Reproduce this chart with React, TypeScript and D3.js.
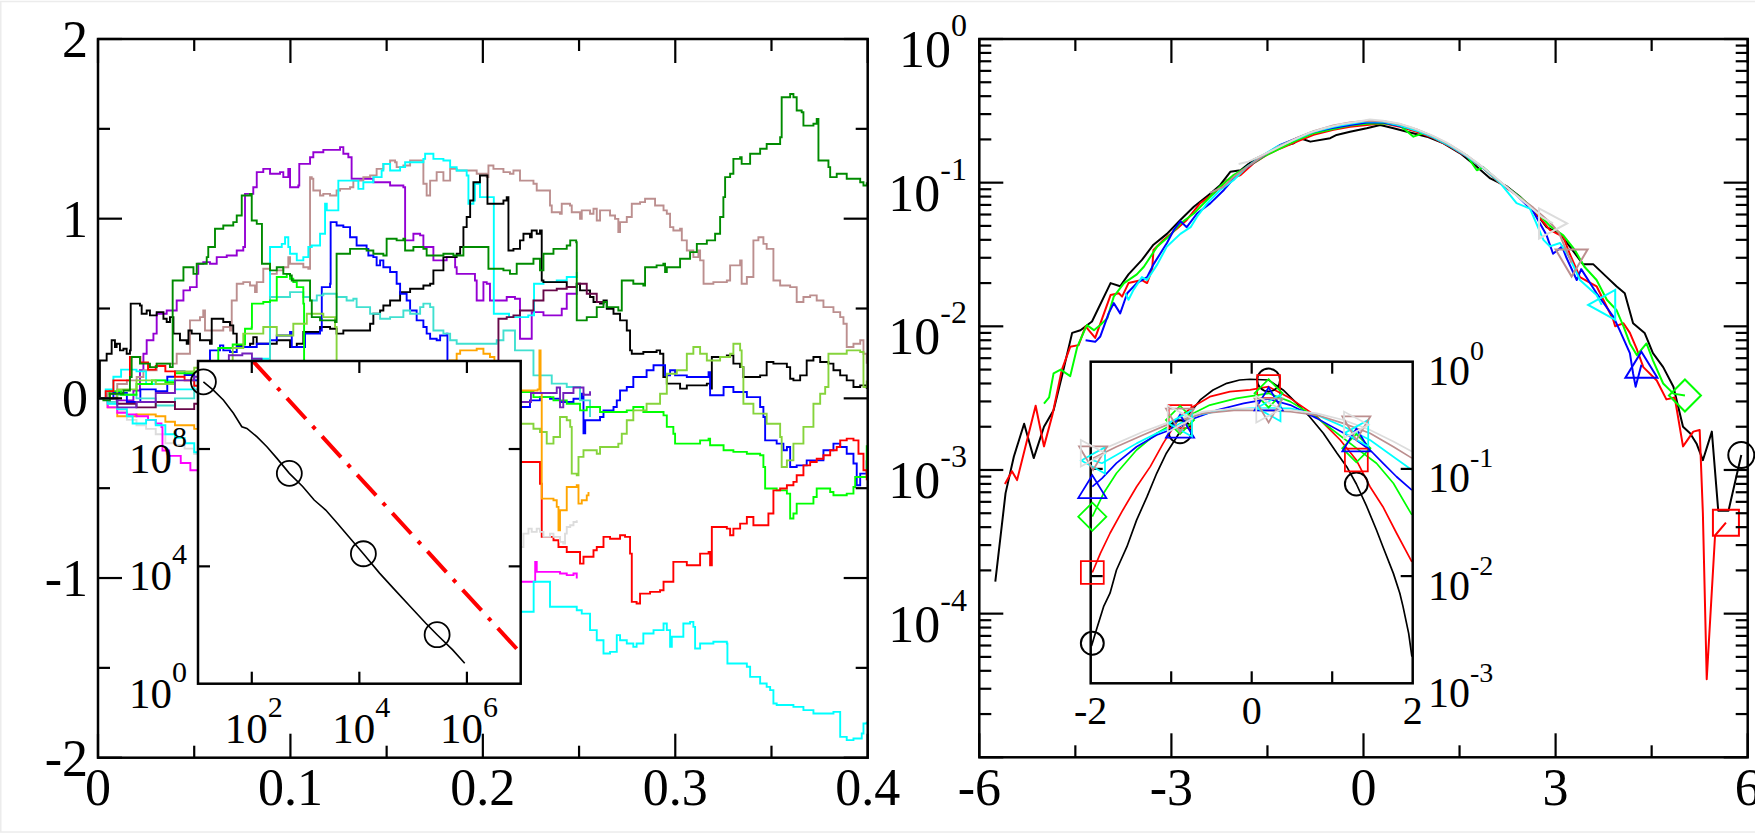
import React from 'react';
import * as d3 from 'd3';

type P = [number, number];

const FONT = '"Liberation Serif", "Times New Roman", Times, serif';

// ---------------- left panel: trajectories x(t) ----------------
const blackWalk: P[] = [[0,0],[0.001,0.211],[0.0045,0.248],[0.0071,0.323],[0.0088,0.286],[0.0097,0.304],[0.0114,0.267],[0.0132,0.276],[0.0149,0.248],[0.0166,0.267],[0.017,0.527],[0.0218,0.517],[0.0227,0.471],[0.0253,0.489],[0.027,0.462],[0.0305,0.48],[0.034,0.443],[0.0357,0.425],[0.0374,0.452],[0.0392,0.36],[0.0426,0.323],[0.0461,0.304],[0.047,0.378],[0.0487,0.36],[0.053,0.323],[0.0582,0.304],[0.0591,0.443],[0.0651,0.425],[0.0686,0.406],[0.0703,0.36],[0.0721,0.295],[0.0755,0.286],[0.079,0.304],[0.0807,0.341],[0.0825,0.304],[0.0929,0.323],[0.0998,0.286],[0.1033,0.304],[0.1067,0.369],[0.1154,0.397],[0.1206,0.387],[0.124,0.36],[0.1275,0.378],[0.1396,0.378],[0.1414,0.415],[0.1431,0.471],[0.1466,0.489],[0.1483,0.517],[0.1518,0.545],[0.157,0.591],[0.1622,0.61],[0.1691,0.628],[0.1726,0.638],[0.1743,0.712],[0.1795,0.786],[0.1864,0.805],[0.1882,0.842],[0.1899,0.953],[0.1916,1.009],[0.1934,1.101],[0.1951,1.203],[0.1985,1.24],[0.202,1.24],[0.2024,1.083],[0.2107,1.101],[0.2124,1.12],[0.2133,0.823],[0.2159,0.832],[0.2193,0.879],[0.2211,0.916],[0.2245,0.897],[0.2254,0.934],[0.228,0.916],[0.2297,0.934],[0.2306,0.656],[0.2315,0.647],[0.2436,0.619],[0.2488,0.638],[0.2505,0.601],[0.2557,0.564],[0.2575,0.536],[0.2609,0.527],[0.2627,0.545],[0.2644,0.499],[0.2679,0.471],[0.2713,0.434],[0.2748,0.378],[0.2765,0.267],[0.2774,0.248],[0.2834,0.258],[0.2903,0.267],[0.2921,0.248],[0.2938,0.119],[0.2956,0.082],[0.3025,0.054],[0.306,0.072],[0.3164,0.082],[0.3181,0.054],[0.319,0.23],[0.3268,0.239],[0.3302,0.193],[0.3337,0.174],[0.3354,0.119],[0.3441,0.128],[0.3475,0.202],[0.351,0.193],[0.358,0.174],[0.3597,0.109],[0.3614,0.1],[0.3649,0.128],[0.3683,0.211],[0.3718,0.23],[0.3753,0.202],[0.3796,0.193],[0.3822,0.156],[0.3857,0.128],[0.3891,0.1],[0.3926,0.063],[0.3961,0.072],[0.3995,0.054]];

const redWalk: P[] = [[0,0],[0.004,0.04],[0.008,0.1],[0.0166,0.23],[0.022,0.2],[0.026,0.16],[0.03,0.18],[0.035,0.15],[0.04,0.12],[0.045,0.1],[0.05,0.07],[0.056,0.05],[0.14,-0.2],[0.215,-0.354],[0.2245,-0.354],[0.2297,-0.475],[0.2306,-0.771],[0.2367,-0.79],[0.2393,-0.827],[0.2436,-0.855],[0.2505,-0.92],[0.2523,-0.882],[0.2575,-0.845],[0.2592,-0.827],[0.2627,-0.771],[0.2661,-0.781],[0.2713,-0.762],[0.2739,-0.771],[0.2765,-0.864],[0.2774,-1.133],[0.2799,-1.142],[0.2817,-1.087],[0.2869,-1.077],[0.2921,-1.068],[0.2939,-1.021],[0.2973,-1.021],[0.299,-0.91],[0.3042,-0.91],[0.306,-0.929],[0.3129,-0.864],[0.3173,-0.855],[0.3181,-0.929],[0.319,-0.716],[0.3268,-0.725],[0.3285,-0.762],[0.3302,-0.725],[0.3337,-0.697],[0.3372,-0.66],[0.3406,-0.706],[0.3458,-0.706],[0.3484,-0.641],[0.351,-0.512],[0.3545,-0.502],[0.358,-0.484],[0.3614,-0.465],[0.3631,-0.428],[0.3666,-0.373],[0.3701,-0.354],[0.3735,-0.336],[0.377,-0.317],[0.3805,-0.289],[0.3839,-0.271],[0.3857,-0.234],[0.3891,-0.224],[0.3926,-0.234],[0.3952,-0.308],[0.3978,-0.4],[0.3995,-0.456]];

const greenWalk: P[] = [[0,0],[0.006,0.04],[0.012,0.02],[0.02,0.08],[0.028,0.1],[0.035,0.09],[0.04,0.14],[0.05,0.15],[0.055,0.2],[0.06,0.2],[0.0625,0.28],[0.07,0.3],[0.0755,0.3],[0.0764,0.387],[0.0799,0.397],[0.08,0.527],[0.0859,0.536],[0.0894,0.545],[0.0929,0.675],[0.0981,0.693],[0.0998,0.666],[0.1015,0.647],[0.1033,0.619],[0.1067,0.527],[0.1071,0.1],[0.16,-0.1],[0.215,0.035],[0.2263,0.007],[0.2349,0.007],[0.2367,-0.011],[0.2436,-0.03],[0.2505,-0.067],[0.254,-0.048],[0.2609,-0.076],[0.2748,-0.067],[0.2782,-0.048],[0.2834,-0.076],[0.2939,-0.095],[0.2956,-0.159],[0.299,-0.197],[0.2999,-0.252],[0.3077,-0.252],[0.3129,-0.234],[0.3173,-0.224],[0.3181,-0.261],[0.3251,-0.289],[0.3302,-0.298],[0.3372,-0.308],[0.3441,-0.317],[0.3458,-0.382],[0.3467,-0.502],[0.3527,-0.512],[0.358,-0.53],[0.3597,-0.669],[0.3614,-0.641],[0.3631,-0.586],[0.3718,-0.549],[0.3735,-0.502],[0.3805,-0.521],[0.3822,-0.539],[0.3891,-0.53],[0.3926,-0.493],[0.3935,-0.438],[0.3978,-0.438],[0.3995,-0.261]];

const blueWalk: P[] = [[0,0],[0.008,0.03],[0.015,-0.02],[0.022,0.05],[0.03,0.04],[0.036,0.12],[0.04,0.15],[0.045,0.13],[0.05,0.1],[0.055,0.18],[0.0582,0.267],[0.0634,0.295],[0.0651,0.267],[0.0686,0.258],[0.0721,0.286],[0.0825,0.304],[0.0894,0.323],[0.0929,0.35],[0.0998,0.369],[0.1007,0.286],[0.1067,0.286],[0.1076,0.36],[0.1154,0.378],[0.1163,0.619],[0.1206,0.638],[0.1209,0.981],[0.124,0.962],[0.1275,0.953],[0.131,0.897],[0.1344,0.851],[0.1396,0.832],[0.1405,0.795],[0.1431,0.786],[0.1448,0.74],[0.1466,0.768],[0.1483,0.73],[0.1518,0.703],[0.1552,0.638],[0.157,0.582],[0.1604,0.545],[0.1622,0.489],[0.1656,0.434],[0.1691,0.397],[0.1708,0.36],[0.1726,0.332],[0.176,0.323],[0.1778,0.35],[0.1812,0.36],[0.1816,0.1],[0.2,-0.05],[0.215,-0.048],[0.2245,-0.011],[0.2297,0.007],[0.2349,-0.002],[0.2401,-0.02],[0.2471,-0.002],[0.2514,0.026],[0.2523,-0.195],[0.2532,-0.122],[0.2609,-0.104],[0.2627,-0.067],[0.2679,-0.048],[0.2696,-0.011],[0.2713,0.044],[0.2748,0.063],[0.2782,0.119],[0.2851,0.156],[0.2887,0.184],[0.2939,0.184],[0.2947,0.128],[0.2973,0.156],[0.2999,0.128],[0.306,0.119],[0.3173,0.146],[0.3181,0.017],[0.3251,0.063],[0.3302,0.035],[0.3372,0.007],[0.3441,-0.048],[0.3458,-0.104],[0.3467,-0.234],[0.3527,-0.252],[0.3562,-0.289],[0.358,-0.271],[0.3597,-0.382],[0.3631,-0.373],[0.3683,-0.345],[0.3735,-0.345],[0.377,-0.289],[0.3822,-0.252],[0.3857,-0.271],[0.3891,-0.308],[0.3926,-0.363],[0.3943,-0.484],[0.3961,-0.419],[0.3995,-0.345]];

const cyanWalkA: P[] = [[0,0],[0.004,0.05],[0.008,0.12],[0.012,0.16],[0.02,0.15],[0.025,0.08],[0.03,0.1],[0.04,0.05],[0.05,0.1],[0.06,0.15],[0.07,0.2],[0.08,0.22],[0.0894,0.842],[0.0955,0.86],[0.0972,0.897],[0.0989,0.842],[0.0998,0.805],[0.1033,0.768],[0.1067,0.786],[0.1093,0.842],[0.1111,0.851],[0.1154,0.916],[0.118,1.083],[0.1189,1.046],[0.124,1.046],[0.1249,1.212],[0.1344,1.212],[0.1353,1.166],[0.1379,1.203],[0.1431,1.231],[0.1474,1.268],[0.1483,1.305],[0.1518,1.268],[0.157,1.287],[0.1596,1.314],[0.1691,1.333],[0.17,1.361],[0.1743,1.333],[0.1795,1.324],[0.183,1.287],[0.1864,1.268],[0.1916,1.24],[0.1925,1.083],[0.1951,1.101],[0.1959,1.194],[0.1985,1.12],[0.2027,1.12],[0.2057,0.471],[0.2136,0.452],[0.2236,0.462],[0.2266,0.638],[0.2315,0.647],[0.2384,0.656],[0.2436,0.675],[0.2488,0.703]];

const cyanWalkB: P[] = [[0,0],[0.005,-0.03],[0.01,-0.06],[0.015,-0.1],[0.018,-0.14],[0.025,-0.12],[0.03,-0.15],[0.035,-0.2],[0.04,-0.22],[0.045,-0.25],[0.05,-0.3],[0.055,-0.32],[0.14,-0.9],[0.215,-1.188],[0.2263,-1.188],[0.2264,-1.021],[0.2332,-1.021],[0.2349,-1.16],[0.2488,-1.179],[0.2514,-1.198],[0.2557,-1.29],[0.2592,-1.346],[0.2627,-1.42],[0.2661,-1.411],[0.2696,-1.318],[0.2713,-1.346],[0.2748,-1.364],[0.2782,-1.383],[0.2799,-1.364],[0.2834,-1.309],[0.2887,-1.29],[0.2939,-1.253],[0.2956,-1.29],[0.2973,-1.383],[0.2982,-1.327],[0.3042,-1.253],[0.3077,-1.244],[0.3094,-1.272],[0.3103,-1.392],[0.3129,-1.364],[0.3198,-1.355],[0.3268,-1.364],[0.3271,-1.476],[0.3337,-1.476],[0.3372,-1.494],[0.3389,-1.55],[0.3441,-1.587],[0.3475,-1.606],[0.3493,-1.624],[0.351,-1.698],[0.3527,-1.707],[0.3614,-1.717],[0.3666,-1.735],[0.3718,-1.754],[0.3822,-1.745],[0.3857,-1.884],[0.3891,-1.902],[0.3926,-1.893],[0.3969,-1.865],[0.3978,-1.81],[0.3995,-1.8]];

const brownWalk: P[] = [[0,0],[0.005,0.03],[0.01,0.08],[0.015,0.1],[0.0201,0.119],[0.0236,0.156],[0.0305,0.193],[0.0357,0.193],[0.0409,0.248],[0.0478,0.434],[0.053,0.452],[0.0547,0.489],[0.0556,0.378],[0.0617,0.378],[0.0651,0.397],[0.0686,0.378],[0.0695,0.545],[0.0721,0.638],[0.0755,0.647],[0.079,0.628],[0.0816,0.591],[0.0825,0.647],[0.0859,0.721],[0.0894,0.693],[0.0929,0.712],[0.0963,0.73],[0.0989,0.786],[0.0998,0.749],[0.1067,0.73],[0.1093,0.721],[0.1102,1.231],[0.1111,1.222],[0.1119,1.157],[0.1154,1.129],[0.1171,1.138],[0.1206,1.129],[0.124,1.157],[0.1258,1.166],[0.131,1.175],[0.1327,1.212],[0.1362,1.212],[0.1379,1.231],[0.1414,1.24],[0.1448,1.277],[0.1483,1.305],[0.1518,1.324],[0.1544,1.314],[0.1552,1.287],[0.1587,1.296],[0.1622,1.324],[0.1691,1.194],[0.1708,1.129],[0.1726,1.212],[0.176,1.259],[0.1795,1.212],[0.183,1.277],[0.1864,1.268],[0.1916,1.268],[0.1968,1.25],[0.202,1.231],[0.2029,1.296],[0.2055,1.277],[0.2107,1.259],[0.2141,1.25],[0.2159,1.268],[0.2193,1.212],[0.2263,1.194],[0.228,1.157],[0.2349,1.073],[0.2358,1.036],[0.2401,1.027],[0.241,1.083],[0.2453,1.073],[0.2462,1.036],[0.2505,0.999],[0.2514,1.046],[0.2557,1.027],[0.2575,1.055],[0.2592,0.99],[0.2609,1.046],[0.2661,1.018],[0.2687,0.999],[0.2704,0.925],[0.2713,0.981],[0.2748,1.009],[0.2774,1.083],[0.2817,1.092],[0.2843,1.111],[0.2887,1.111],[0.2895,1.073],[0.2939,1.046],[0.2956,1.027],[0.2973,0.953],[0.299,0.934],[0.3025,0.944],[0.3034,0.879],[0.306,0.823],[0.3094,0.786],[0.312,0.823],[0.3129,0.768],[0.3147,0.638],[0.3198,0.647],[0.3268,0.656],[0.3285,0.74],[0.3337,0.768],[0.3345,0.638],[0.3372,0.675],[0.3406,0.879],[0.3432,0.897],[0.3458,0.86],[0.3475,0.832],[0.3493,0.832],[0.351,0.656],[0.3545,0.628],[0.3597,0.619],[0.3631,0.536],[0.3666,0.564],[0.3701,0.573],[0.3735,0.545],[0.377,0.508],[0.3822,0.48],[0.3857,0.452],[0.3874,0.415],[0.3891,0.286],[0.3926,0.304],[0.3961,0.323],[0.3978,0.248],[0.3995,0.193]];

const violetWalk: P[] = [[0,0],[0.0045,0.026],[0.0097,-0.011],[0.0184,0.044],[0.0218,0.156],[0.0236,0.248],[0.0253,0.323],[0.0288,0.36],[0.0305,0.471],[0.0357,0.489],[0.0409,0.545],[0.0444,0.601],[0.0478,0.619],[0.0513,0.693],[0.0521,0.749],[0.0547,0.758],[0.0582,0.749],[0.0617,0.786],[0.0669,0.795],[0.0721,0.823],[0.0755,0.842],[0.0764,1.138],[0.0807,1.175],[0.0825,1.259],[0.0859,1.277],[0.0894,1.25],[0.0946,1.259],[0.0963,1.231],[0.0989,1.277],[0.0998,1.175],[0.1041,1.185],[0.1046,1.305],[0.1102,1.342],[0.1119,1.37],[0.1171,1.383],[0.1258,1.398],[0.1275,1.361],[0.1301,1.342],[0.1318,1.222],[0.1362,1.222],[0.1431,1.203],[0.1518,1.185],[0.1587,1.175],[0.1596,0.879],[0.1639,0.916],[0.1674,0.907],[0.1691,0.842],[0.1743,0.768],[0.1795,0.768],[0.1812,0.786],[0.1856,0.73],[0.1864,0.693],[0.1933,0.693],[0.1959,0.656],[0.1968,0.545],[0.2003,0.647],[0.202,0.638],[0.2037,0.545],[0.2124,0.564],[0.2167,0.554],[0.2193,0.332],[0.2245,0.332],[0.2254,0.48],[0.2315,0.462],[0.241,0.499],[0.2436,0.582],[0.2488,0.628]];

const limeWalk: P[] = [[0,0],[0.01,0.05],[0.02,0.1],[0.03,0.08],[0.04,0.15],[0.05,0.17],[0.06,0.2],[0.07,0.28],[0.0755,0.36],[0.0859,0.397],[0.0929,0.35],[0.1015,0.415],[0.1085,0.471],[0.1137,0.471],[0.1171,0.452],[0.1232,0.397],[0.124,0.1],[0.17,-0.1],[0.215,-0.141],[0.2263,-0.169],[0.2297,-0.187],[0.2332,-0.252],[0.2367,-0.215],[0.2401,-0.104],[0.2436,-0.122],[0.2454,-0.159],[0.2462,-0.419],[0.2488,-0.428],[0.2497,-0.326],[0.2523,-0.289],[0.2592,-0.308],[0.2609,-0.271],[0.2704,-0.252],[0.2722,-0.197],[0.2748,-0.122],[0.2782,-0.067],[0.2851,-0.03],[0.2921,0.026],[0.2956,0.137],[0.3008,0.156],[0.306,0.248],[0.3094,0.286],[0.3129,0.248],[0.3164,0.211],[0.3233,0.23],[0.3285,0.248],[0.3302,0.304],[0.3337,0.267],[0.3345,0.174],[0.3354,-0.03],[0.3406,-0.085],[0.3475,-0.141],[0.3545,-0.215],[0.3553,-0.382],[0.358,-0.345],[0.3614,-0.252],[0.3666,-0.159],[0.3718,-0.03],[0.3753,0.026],[0.3779,0.063],[0.3796,0.248],[0.3891,0.267],[0.3961,0.258],[0.3978,0.063],[0.3995,0.1]];

const turquoiseWalk: P[] = [[0,0],[0.005,-0.02],[0.01,0.02],[0.02,0],[0.03,-0.04],[0.04,0],[0.05,0.05],[0.06,0.08],[0.07,0.1],[0.08,0.12],[0.0885,0.15],[0.0894,0.564],[0.0998,0.591],[0.1067,0.564],[0.1102,0.545],[0.1137,0.573],[0.1171,0.582],[0.124,0.564],[0.1292,0.545],[0.1327,0.554],[0.1344,0.508],[0.1414,0.471],[0.1466,0.443],[0.1518,0.452],[0.1587,0.489],[0.1622,0.471],[0.1674,0.508],[0.1691,0.527],[0.1726,0.508],[0.1743,0.378],[0.1795,0.36],[0.183,0.323],[0.1864,0.304],[0.1951,0.304],[0.2072,0.323],[0.2107,0.378],[0.2159,0.378],[0.2167,0.267],[0.2254,0.267],[0.2263,0.128],[0.2349,0.128],[0.2358,0.082],[0.2436,0.063],[0.2505,-0.011],[0.2557,-0.104]];

const maroonWalk: P[] = [[0,0],[0.01,-0.03],[0.02,-0.05],[0.03,-0.02],[0.04,-0.06],[0.05,-0.03],[0.12,0.05],[0.2,0.15],[0.2081,0.443],[0.2124,0.452],[0.2159,0.462],[0.2193,0.489],[0.2263,0.545],[0.2315,0.601],[0.2384,0.61],[0.2436,0.619],[0.2488,0.638],[0.254,0.582],[0.2592,0.536],[0.2627,0.527]];

const indigoWalk: P[] = [[0,0],[0.01,-0.05],[0.02,-0.02],[0.03,0.03],[0.04,0.1],[0.05,0.12],[0.06,0.2],[0.068,0.24],[0.075,0.25],[0.08,0.22],[0.085,0.1],[0.215,-0.02],[0.225,0.03],[0.2384,0.06],[0.2401,-0.05],[0.2418,0.03],[0.2471,0.06],[0.2523,0.02],[0.2557,0.04]];

const magentaWalk: P[] = [[0,0],[0.005,-0.05],[0.01,-0.08],[0.015,-0.09],[0.02,-0.1],[0.026,-0.12],[0.03,-0.14],[0.033,-0.16],[0.0335,-0.29],[0.037,-0.32],[0.043,-0.36],[0.048,-0.4],[0.052,-0.44],[0.215,-1.021],[0.2263,-1.021],[0.2272,-0.91],[0.228,-0.966],[0.2349,-0.966],[0.2401,-0.975],[0.2436,-0.984],[0.2471,-0.975],[0.2488,-1.003]];

const orangeWalk: P[] = [[0,0],[0.005,-0.05],[0.01,-0.1],[0.02,-0.09],[0.03,-0.1],[0.035,-0.13],[0.04,-0.15],[0.05,-0.17],[0.12,-0.05],[0.182,0.15],[0.1829,0.211],[0.1864,0.248],[0.1882,0.267],[0.1934,0.267],[0.1968,0.276],[0.2003,0.248],[0.2037,0.23],[0.206,0.1],[0.2193,0.044],[0.2285,0.05],[0.2294,0.267],[0.23,0.03],[0.2306,-0.558],[0.2367,-0.567],[0.2384,-0.604],[0.2393,-0.734],[0.2401,-0.623],[0.2436,-0.493],[0.2488,-0.484],[0.2497,-0.586],[0.2514,-0.567],[0.254,-0.54],[0.2549,-0.521]];

const greyWalk: P[] = [[0,0],[0.005,-0.03],[0.01,-0.07],[0.015,-0.12],[0.02,-0.15],[0.025,-0.17],[0.03,-0.2],[0.035,-0.25],[0.04,-0.26],[0.045,-0.28],[0.05,-0.31],[0.052,-0.33],[0.215,-0.827],[0.2211,-0.753],[0.2237,-0.725],[0.2254,-0.743],[0.228,-0.725],[0.2297,-0.743],[0.2315,-0.771],[0.2349,-0.753],[0.2367,-0.771],[0.2401,-0.799],[0.2418,-0.808],[0.2427,-0.753],[0.2436,-0.716],[0.2454,-0.706],[0.2471,-0.688],[0.2488,-0.679]];

const darkGreenWalk: P[] = [[0,0],[0.0028,-0.011],[0.0062,0.026],[0.0132,0.044],[0.0166,0.119],[0.0175,0.23],[0.0218,0.193],[0.027,0.174],[0.0305,0.193],[0.0374,0.174],[0.0388,0.656],[0.0444,0.73],[0.0478,0.73],[0.0496,0.693],[0.0513,0.749],[0.0565,0.786],[0.0573,0.842],[0.0608,0.944],[0.0651,0.962],[0.0703,0.981],[0.0721,1.018],[0.0747,1.129],[0.079,1.138],[0.0799,0.99],[0.0825,0.971],[0.0851,0.971],[0.0852,0.749],[0.0894,0.712],[0.0929,0.73],[0.0963,0.693],[0.0998,0.684],[0.1007,0.656],[0.1102,0.545],[0.1111,0.452],[0.1154,0.434],[0.1232,0.425],[0.124,0.805],[0.131,0.832],[0.1396,0.823],[0.1431,0.805],[0.1483,0.795],[0.15,0.888],[0.1552,0.879],[0.1587,0.888],[0.1596,0.823],[0.1639,0.842],[0.1691,0.832],[0.1708,0.795],[0.1795,0.805],[0.1847,0.795],[0.1899,0.842],[0.202,0.842],[0.2029,0.721],[0.2107,0.712],[0.2141,0.693],[0.2176,0.749],[0.2193,0.749],[0.2263,0.777],[0.2297,0.712],[0.2315,0.805],[0.2367,0.832],[0.2436,0.851],[0.2454,0.879],[0.2485,0.869],[0.2488,0.434],[0.254,0.452],[0.2592,0.508],[0.2627,0.536],[0.2644,0.508],[0.2704,0.489],[0.2722,0.656],[0.2782,0.638],[0.2834,0.628],[0.2843,0.73],[0.2903,0.74],[0.2938,0.749],[0.2947,0.703],[0.2956,0.73],[0.3025,0.777],[0.3077,0.814],[0.3112,0.86],[0.3164,0.879],[0.3207,0.916],[0.3233,1.009],[0.325,1.12],[0.3259,1.231],[0.3285,1.25],[0.3302,1.333],[0.3337,1.342],[0.3345,1.305],[0.3389,1.361],[0.3441,1.389],[0.3475,1.416],[0.3545,1.453],[0.3553,1.676],[0.3597,1.694],[0.3614,1.676],[0.3631,1.602],[0.3657,1.592],[0.3666,1.518],[0.3718,1.528],[0.3735,1.555],[0.3744,1.324],[0.377,1.324],[0.3796,1.287],[0.3805,1.231],[0.3839,1.25],[0.3891,1.222],[0.3961,1.203],[0.3978,1.185],[0.3995,1.203]];

const walks: { color: string; pts: P[] }[] = [
  { color: '#9400d3', pts: violetWalk },
  { color: '#bc8f8f', pts: brownWalk },
  { color: '#00ffff', pts: cyanWalkA },
  { color: '#000000', pts: blackWalk },
  { color: '#0000ff', pts: blueWalk },
  { color: '#40e0d0', pts: turquoiseWalk },
  { color: '#00ff00', pts: greenWalk },
  { color: '#86d43c', pts: limeWalk },
  { color: '#ff0000', pts: redWalk },
  { color: '#ffa500', pts: orangeWalk },
  { color: '#dcdcdc', pts: greyWalk },
  { color: '#ff00ff', pts: magentaWalk },
  { color: '#00ffff', pts: cyanWalkB },
  { color: '#670748', pts: maroonWalk },
  { color: '#7221bc', pts: indigoWalk },
  { color: '#008b00', pts: darkGreenWalk },
];

const leftXTicks = [0, 0.1, 0.2, 0.3, 0.4];
const leftXMinor = [0.05, 0.15, 0.25, 0.35];
const leftYTicks = [-2, -1, 0, 1, 2];
const leftYMinor = [-1.5, -0.5, 0.5, 1.5];

// inset: waiting-time distribution, log-log
const waitCurve: P[] = [[12.6,1.95e10],[19.3,1.02e10],[29.6,4.68e9],[45.6,1.66e9],[65.3,5.75e8],[81.1,5.01e8],[124,2.63e8],[191,1.2e8],[294,4.79e7],[499,1.48e7],[883,5.25e6],[1445,1.82e6],[2371,8.32e5],[3890,2.95e5],[6368,1.02e5],[11885,2.69e4],[23714,5.89e3],[45709,1.58e3],[88308,427],[170215,117],[279254,46.8],[538270,14.5],[910000,5.0]];
const waitMarkIdx = [0, 9, 15, 20];
const guideLine: P[] = [[100, 1.1e11], [1e7, 11]];
const insetLXExp = [2, 4, 6];
const insetLYExp = [0, 4, 8];

// ---------------- right panel: distributions ----------------
const distBlack: P[] = [[-5.75,0.000167],[-5.59,0.00069],[-5.46,0.00124],[-5.3,0.0021],[-5.15,0.00121],[-4.99,0.002],[-4.84,0.0026],[-4.71,0.0045],[-4.55,0.009],[-4.42,0.0094],[-4.24,0.0108],[-3.95,0.02],[-3.8,0.019],[-3.67,0.023],[-3.46,0.029],[-3.28,0.037],[-3.07,0.044],[-2.86,0.055],[-2.65,0.068],[-2.39,0.084],[-2.24,0.096],[-2.08,0.119],[-1.92,0.122],[-1.72,0.144],[-1.51,0.16],[-1.3,0.178],[-1.09,0.188],[-0.99,0.204],[-0.83,0.193],[-0.52,0.204],[-0.42,0.215],[-0.21,0.226],[0.05,0.239],[0.26,0.252],[0.47,0.239],[0.68,0.226],[0.99,0.209],[1.25,0.188],[1.51,0.16],[1.77,0.129],[1.98,0.107],[2.24,0.094],[2.44,0.08],[2.65,0.065],[2.86,0.049],[3.07,0.044],[3.22,0.036],[3.43,0.027],[3.59,0.027],[3.8,0.022],[3.95,0.019],[4.08,0.017],[4.21,0.0105],[4.39,0.009],[4.52,0.0065],[4.68,0.0052],[4.84,0.0038],[4.99,0.002],[5.1,0.0018],[5.2,0.00153],[5.3,0.00117],[5.44,0.00185],[5.54,0.00052],[5.7,0.00052],[5.9,0.00127]];
const distRed: P[] = [[-5.6,0.0008],[-5.49,0.00098],[-5.41,0.00085],[-5.12,0.0028],[-4.99,0.00146],[-4.86,0.0024],[-4.71,0.005],[-4.58,0.0072],[-4.45,0.0074],[-4.34,0.01],[-4.19,0.0083],[-3.95,0.0165],[-3.82,0.017],[-3.77,0.0161],[-3.67,0.02],[-3.46,0.021],[-3.38,0.02],[-3.3,0.025],[-3.28,0.034],[-3.12,0.04],[-2.91,0.048],[-2.76,0.055],[-2.55,0.072],[-2.34,0.084],[-2.13,0.104],[-1.92,0.113],[-1.72,0.136],[-1.51,0.156],[-1.3,0.173],[-1.04,0.193],[-0.78,0.215],[-0.47,0.233],[-0.21,0.245],[0.05,0.252],[0.31,0.259],[0.57,0.245],[0.83,0.226],[1.09,0.204],[1.35,0.178],[1.61,0.152],[1.87,0.126],[2.13,0.099],[2.39,0.082],[2.65,0.065],[2.91,0.047],[3.12,0.042],[3.22,0.032],[3.38,0.022],[3.64,0.019],[3.9,0.0111],[3.93,0.01],[4.06,0.0105],[4.16,0.009],[4.27,0.0069],[4.37,0.0052],[4.58,0.0042],[4.73,0.0031],[4.86,0.0032],[4.99,0.00146],[5.15,0.00185],[5.25,0.0019],[5.3,0.0005],[5.36,0.000035],[5.49,0.00035],[5.66,0.00043]];
const distGreen: P[] = [[-4.99,0.0029],[-4.91,0.0032],[-4.84,0.0047],[-4.73,0.005],[-4.58,0.0045],[-4.47,0.0072],[-4.32,0.0102],[-4.21,0.0094],[-4.11,0.0102],[-4,0.0114],[-3.9,0.0161],[-3.74,0.02],[-3.54,0.023],[-3.43,0.026],[-3.22,0.036],[-3.02,0.043],[-2.86,0.052],[-2.65,0.061],[-2.44,0.076],[-2.24,0.094],[-2.03,0.113],[-1.82,0.129],[-1.56,0.152],[-1.3,0.173],[-1.04,0.198],[-0.78,0.221],[-0.47,0.236],[-0.21,0.25],[0.05,0.257],[0.31,0.259],[0.57,0.25],[0.78,0.209],[0.95,0.222],[1.09,0.207],[1.35,0.18],[1.61,0.155],[1.77,0.122],[1.87,0.128],[2.13,0.101],[2.39,0.083],[2.65,0.066],[2.91,0.05],[3.12,0.043],[3.3,0.034],[3.45,0.026],[3.64,0.021],[3.8,0.0153],[3.95,0.013],[4.06,0.01],[4.16,0.0076],[4.27,0.0063],[4.42,0.0076],[4.52,0.0058],[4.68,0.004],[4.84,0.0034],[5.02,0.0033]];
const distBlue: P[] = [[-4.34,0.008],[-4.19,0.0078],[-4.11,0.0085],[-3.98,0.0123],[-3.9,0.0145],[-3.8,0.0123],[-3.69,0.017],[-3.54,0.02],[-3.38,0.022],[-3.28,0.027],[-3.07,0.038],[-2.96,0.047],[-2.86,0.054],[-2.76,0.049],[-2.6,0.061],[-2.39,0.072],[-2.18,0.089],[-1.98,0.113],[-1.77,0.133],[-1.51,0.16],[-1.3,0.183],[-1.04,0.204],[-0.78,0.226],[-0.47,0.241],[-0.21,0.252],[0.05,0.262],[0.31,0.262],[0.57,0.248],[0.83,0.232],[1.09,0.207],[1.35,0.18],[1.61,0.153],[1.87,0.127],[2.13,0.101],[2.39,0.082],[2.65,0.063],[2.86,0.043],[2.96,0.032],[3.1,0.036],[3.17,0.03],[3.33,0.021],[3.4,0.025],[3.64,0.017],[3.9,0.0117],[4,0.0094],[4.16,0.0065],[4.21,0.0047],[4.25,0.0038],[4.34,0.0054]];
const distCyan: P[] = [[-3.72,0.017],[-3.67,0.0153],[-3.59,0.018],[-3.46,0.022],[-3.38,0.021],[-3.22,0.027],[-3.07,0.036],[-2.86,0.044],[-2.7,0.049],[-2.6,0.058],[-2.44,0.072],[-2.24,0.089],[-2.03,0.104],[-1.82,0.129],[-1.56,0.156],[-1.35,0.178],[-1.09,0.198],[-0.78,0.226],[-0.47,0.245],[-0.21,0.257],[0.05,0.268],[0.31,0.265],[0.57,0.25],[0.83,0.23],[1.09,0.207],[1.35,0.18],[1.61,0.153],[1.87,0.126],[2.13,0.1],[2.39,0.072],[2.6,0.066],[2.81,0.04],[2.91,0.036],[3.07,0.038],[3.22,0.03],[3.38,0.021],[3.64,0.0165],[3.72,0.0141]];
const distBrown: P[] = [[-2.4,0.085],[-2.2,0.093],[-2,0.112],[-1.8,0.13],[-1.56,0.155],[-1.3,0.18],[-1.04,0.205],[-0.78,0.228],[-0.47,0.25],[-0.21,0.262],[0.05,0.27],[0.31,0.268],[0.57,0.255],[0.83,0.235],[1.09,0.21],[1.35,0.183],[1.61,0.155],[1.87,0.127],[2.13,0.102],[2.39,0.082],[2.65,0.067],[2.91,0.053],[3.05,0.045],[3.25,0.0276]];
const distGrey: P[] = [[-1.95,0.135],[-1.8,0.14],[-1.65,0.15],[-1.4,0.17],[-1.1,0.198],[-0.85,0.222],[-0.6,0.24],[-0.35,0.255],[-0.1,0.265],[0.1,0.275],[0.3,0.27],[0.55,0.258],[0.8,0.238],[1.05,0.215],[1.3,0.19],[1.55,0.162],[1.8,0.135],[2.05,0.11],[2.3,0.088],[2.55,0.071],[2.8,0.057],[2.96,0.052]];

// inset: unscaled distributions
const rawBlack: P[] = [[-1.99,0.00223],[-1.93,0.00314],[-1.84,0.00519],[-1.76,0.00692],[-1.68,0.0114],[-1.55,0.0188],[-1.43,0.0333],[-1.3,0.0551],[-1.18,0.091],[-1.06,0.14],[-0.89,0.222],[-0.77,0.33],[-0.64,0.44],[-0.48,0.545],[-0.31,0.628],[-0.15,0.675],[-0.02,0.686],[0.21,0.675],[0.39,0.545],[0.56,0.409],[0.72,0.307],[0.89,0.215],[1.06,0.14],[1.18,0.105],[1.3,0.0723],[1.43,0.0444],[1.55,0.0269],[1.63,0.0188],[1.76,0.0106],[1.84,0.00692],[1.88,0.00519],[1.95,0.00292],[1.99,0.00177]];
const rawRed: P[] = [[-1.98,0.0108],[-1.88,0.0163],[-1.76,0.0251],[-1.6,0.0414],[-1.43,0.0682],[-1.26,0.105],[-1.1,0.173],[-0.89,0.307],[-0.73,0.38],[-0.52,0.472],[-0.27,0.525],[-0.02,0.545],[0.21,0.585],[0.48,0.455],[0.81,0.307],[1.1,0.186],[1.3,0.121],[1.47,0.0682],[1.63,0.0444],[1.8,0.0251],[1.99,0.0136]];
const rawGreen: P[] = [[-1.98,0.0358],[-1.84,0.0592],[-1.68,0.091],[-1.43,0.15],[-1.18,0.215],[-0.89,0.286],[-0.52,0.394],[-0.19,0.455],[0.21,0.507],[0.48,0.424],[0.81,0.3],[1.3,0.156],[1.55,0.113],[1.76,0.0734],[1.99,0.0372]];
const rawBlue: P[] = [[-1.98,0.0682],[-1.86,0.0817],[-1.68,0.113],[-1.43,0.161],[-1.18,0.207],[-0.89,0.25],[-0.77,0.286],[-0.43,0.354],[-0.1,0.409],[0.21,0.45],[0.48,0.394],[0.81,0.296],[1.3,0.186],[1.47,0.15],[1.63,0.113],[1.8,0.0845],[1.99,0.0635]];
const rawCyan: P[] = [[-1.97,0.12],[-1.86,0.113],[-1.68,0.135],[-1.43,0.173],[-1.18,0.215],[-0.93,0.257],[-0.68,0.318],[-0.35,0.354],[-0.02,0.367],[0.21,0.37],[0.48,0.367],[0.81,0.318],[1.14,0.248],[1.47,0.186],[1.76,0.13],[1.99,0.0977]];
const rawBrown: P[] = [[-1.97,0.126],[-1.68,0.161],[-1.35,0.207],[-1.01,0.266],[-0.6,0.33],[-0.19,0.354],[0.21,0.35],[0.48,0.342],[0.81,0.318],[1.14,0.266],[1.47,0.215],[1.76,0.161],[1.99,0.126]];
const rawGrey: P[] = [[-1.97,0.14],[-1.68,0.173],[-1.35,0.222],[-1.01,0.276],[-0.6,0.342],[-0.19,0.367],[0.21,0.36],[0.48,0.354],[0.81,0.33],[1.14,0.286],[1.47,0.231],[1.76,0.18],[1.99,0.145]];
const rawMarkX = [-1.98, -0.89, 0.21, 1.3];

const rightXTicks = [-6, -3, 0, 3, 6];
const rightXMinor = [-4.5, -1.5, 1.5, 4.5];
const rightYExp = [0, -1, -2, -3, -4];
const insetRXTicks = [-2, 0, 2];
const insetRXMarks = [-1, 0, 1];
const insetRYExp = [0, -1, -2, -3];

const series = [
  { color: '#000000', sym: 'circle', main: distBlack, raw: rawBlack },
  { color: '#ff0000', sym: 'square', main: distRed, raw: rawRed },
  { color: '#00ff00', sym: 'diamond', main: distGreen, raw: rawGreen },
  { color: '#0000ff', sym: 'up', main: distBlue, raw: rawBlue },
  { color: '#00ffff', sym: 'left', main: distCyan, raw: rawCyan },
  { color: '#bc8f8f', sym: 'down', main: distBrown, raw: rawBrown },
  { color: '#dcdcdc', sym: 'right', main: distGrey, raw: rawGrey },
];

// ---------------- scales ----------------
const LX = d3.scaleLinear().domain([0, 0.4]).range([98, 867.7]);
const LY = d3.scaleLinear().domain([-2, 2]).range([757.7, 39]);
const ILX = d3.scaleLog().domain([10, 1e7]).range([198, 520.7]);
const ILY = d3.scaleLog().domain([1, 1e11]).range([683.7, 361]);
const RX = d3.scaleLinear().domain([-6, 6]).range([979.3, 1747.7]);
const RY = d3.scaleLog().domain([1e-5, 1]).range([757.3, 39]);
const IRX = d3.scaleLinear().domain([-2, 2]).range([1090.7, 1412.7]);
const IRY = d3.scaleLog().domain([1e-3, 1]).range([683.3, 361.7]);

const walkPath = d3.line<P>().x(d => LX(d[0])).y(d => LY(d[1])).curve(d3.curveStepAfter);
const waitPath = d3.line<P>().x(d => ILX(d[0])).y(d => ILY(d[1]));
const distPath = d3.line<P>().x(d => RX(d[0])).y(d => RY(d[1]));
const rawPath = d3.line<P>().x(d => IRX(d[0])).y(d => IRY(d[1]));

// log-linear lookup along a curve
function valueAt(pts: P[], x: number): number {
  if (x <= pts[0][0]) return pts[0][1];
  for (let i = 1; i < pts.length; i++) {
    if (x <= pts[i][0]) {
      const [x0, y0] = pts[i - 1];
      const [x1, y1] = pts[i];
      const f = (x - x0) / (x1 - x0);
      return Math.exp(Math.log(y0) + f * (Math.log(y1) - Math.log(y0)));
    }
  }
  return pts[pts.length - 1][1];
}

function Symbol({ kind, x, y, color, k = 1 }: { kind: string; x: number; y: number; color: string; k?: number }) {
  const common = { fill: 'none', stroke: color, strokeWidth: 2 };
  if (kind === 'circle') return <circle cx={x} cy={y} r={13 * k} {...common} />;
  const paths: Record<string, string> = {
    square: 'M-13,-13H13V13H-13Z',
    diamond: 'M0,-16L16,0L0,16L-16,0Z',
    up: 'M0,-13L16,13H-16Z',
    down: 'M0,13.5L16,-13.5H-16Z',
    left: 'M-13.5,0L13.5,-15V15Z',
    right: 'M14,0L-14,-15V15Z',
  };
  return <path d={paths[kind]} transform={`translate(${x},${y}) scale(${k})`} {...common} />;
}

function Pow({ x, y, exp, size, sup, dy, anchor }: { x: number; y: number; exp: string; size: number; sup: number; dy: number; anchor: string }) {
  return (
    <text x={x} y={y} fontSize={size} textAnchor={anchor as any} fill="#000">
      10<tspan fontSize={sup} dy={dy}>{exp}</tspan>
    </text>
  );
}

const TW = 2.2;

export default function App() {
  const logMinor: number[] = [];
  for (let e = -5; e < 0; e++) for (let m = 2; m <= 9; m++) logMinor.push(m * Math.pow(10, e));
  const logMajor = [1e-5, 1e-4, 1e-3, 1e-2, 1e-1, 1];

  return (
    <svg width={1755} height={834} viewBox="0 0 1755 834"
      style={{ position: 'absolute', left: 0, top: 0, display: 'block' }} fontFamily={FONT}>
      <rect x={0} y={0} width={1755} height={834} fill="#fff" />
      <rect x={0.75} y={1.5} width={1760} height={830.5} fill="none" stroke="#ececec" strokeWidth={1.5} />
      <defs>
        <clipPath id="clipL"><rect x={98} y={39} width={769.7} height={718.7} /></clipPath>
        <clipPath id="clipIL"><rect x={198} y={361} width={322.7} height={322.7} /></clipPath>
        <clipPath id="clipR"><rect x={979.3} y={39} width={768.4} height={718.3} /></clipPath>
        <clipPath id="clipIR"><rect x={1090.7} y={361.7} width={322} height={321.6} /></clipPath>
      </defs>

      {/* ---------- left panel ---------- */}
      <g clipPath="url(#clipL)">
        {walks.map((w, i) => (
          <path key={i} d={walkPath(w.pts) || ''} fill="none" stroke={w.color} strokeWidth={1.9} strokeLinejoin="miter" />
        ))}
      </g>
      <rect x={98} y={39} width={769.7} height={718.7} fill="none" stroke="#000" strokeWidth={2.5} />
      {leftXTicks.map(v => (
        <g key={'lxt' + v} stroke="#000" strokeWidth={TW}>
          <line x1={LX(v)} x2={LX(v)} y1={757.7} y2={733.7} />
          <line x1={LX(v)} x2={LX(v)} y1={39} y2={63} />
        </g>
      ))}
      {leftXMinor.map(v => (
        <g key={'lxm' + v} stroke="#000" strokeWidth={TW}>
          <line x1={LX(v)} x2={LX(v)} y1={757.7} y2={745.7} />
          <line x1={LX(v)} x2={LX(v)} y1={39} y2={51} />
        </g>
      ))}
      {leftYTicks.map(v => (
        <g key={'lyt' + v} stroke="#000" strokeWidth={TW}>
          <line x1={98} x2={122} y1={LY(v)} y2={LY(v)} />
          <line x1={867.7} x2={843.7} y1={LY(v)} y2={LY(v)} />
        </g>
      ))}
      {leftYMinor.map(v => (
        <g key={'lym' + v} stroke="#000" strokeWidth={TW}>
          <line x1={98} x2={110} y1={LY(v)} y2={LY(v)} />
          <line x1={867.7} x2={855.7} y1={LY(v)} y2={LY(v)} />
        </g>
      ))}
      {leftXTicks.map(v => (
        <text key={'lxl' + v} x={LX(v)} y={805} fontSize={52} textAnchor="middle">{String(v)}</text>
      ))}
      {leftYTicks.map(v => (
        <text key={'lyl' + v} x={88} y={LY(v) + 18} fontSize={52} textAnchor="end">{String(v)}</text>
      ))}

      {/* inset: waiting times */}
      <rect x={198} y={361} width={322.7} height={322.7} fill="#fff" />
      <g clipPath="url(#clipIL)">
        <path d={waitPath(guideLine) || ''} fill="none" stroke="#ff0000" strokeWidth={4} strokeDasharray="28,10,4,10" />
        <path d={waitPath(waitCurve) || ''} fill="none" stroke="#000" strokeWidth={1.6} />
      </g>
      {waitMarkIdx.map(i => (
        <circle key={'wm' + i} cx={ILX(waitCurve[i][0])} cy={ILY(waitCurve[i][1])} r={12.5} fill="none" stroke="#000" strokeWidth={1.8} />
      ))}
      <rect x={198} y={361} width={322.7} height={322.7} fill="none" stroke="#000" strokeWidth={2.5} />
      {insetLXExp.map(e => (
        <g key={'ilx' + e} stroke="#000" strokeWidth={TW}>
          <line x1={ILX(Math.pow(10, e))} x2={ILX(Math.pow(10, e))} y1={683.7} y2={671.7} />
          <line x1={ILX(Math.pow(10, e))} x2={ILX(Math.pow(10, e))} y1={361} y2={373} />
        </g>
      ))}
      {insetLYExp.filter(e => e > 0).map(e => (
        <g key={'ily' + e} stroke="#000" strokeWidth={TW}>
          <line x1={198} x2={210} y1={ILY(Math.pow(10, e))} y2={ILY(Math.pow(10, e))} />
          <line x1={520.7} x2={508.7} y1={ILY(Math.pow(10, e))} y2={ILY(Math.pow(10, e))} />
        </g>
      ))}
      {insetLXExp.map(e => (
        <Pow key={'ilxl' + e} x={ILX(Math.pow(10, e)) + 2} y={743} exp={String(e)} size={43} sup={30} dy={-26} anchor="middle" />
      ))}
      {insetLYExp.map(e => (
        <Pow key={'ilyl' + e} x={187} y={ILY(Math.pow(10, e)) + 24} exp={String(e)} size={43} sup={30} dy={-26} anchor="end" />
      ))}

      {/* ---------- right panel ---------- */}
      <g clipPath="url(#clipR)">
        {series.map(s => (
          <path key={'m' + s.color} d={distPath(s.main) || ''} fill="none" stroke={s.color} strokeWidth={2} strokeLinejoin="round" />
        ))}
      </g>

      {/* inset: unscaled distributions */}
      <rect x={1090.7} y={361.7} width={322} height={321.6} fill="#fff" />
      <g clipPath="url(#clipIR)">
        {series.map(s => (
          <path key={'r' + s.color} d={rawPath(s.raw) || ''} fill="none" stroke={s.color} strokeWidth={1.7} strokeLinejoin="round" />
        ))}
      </g>
      <rect x={1090.7} y={361.7} width={322} height={321.6} fill="none" stroke="#000" strokeWidth={2.5} />
      {insetRXMarks.map(v => (
        <g key={'irx' + v} stroke="#000" strokeWidth={TW}>
          <line x1={IRX(v)} x2={IRX(v)} y1={683.3} y2={671.3} />
          <line x1={IRX(v)} x2={IRX(v)} y1={361.7} y2={373.7} />
        </g>
      ))}
      {insetRYExp.filter(e => e < 0 && e > -3).map(e => (
        <g key={'iry' + e} stroke="#000" strokeWidth={TW}>
          <line x1={1090.7} x2={1102.7} y1={IRY(Math.pow(10, e))} y2={IRY(Math.pow(10, e))} />
          <line x1={1412.7} x2={1400.7} y1={IRY(Math.pow(10, e))} y2={IRY(Math.pow(10, e))} />
        </g>
      ))}
      {series.map(s => rawMarkX.map(x => (
        <Symbol key={'rm' + s.color + x} kind={s.sym} color={s.color} k={0.88}
          x={IRX(Math.max(x, s.raw[0][0]))} y={IRY(valueAt(s.raw, x))} />
      )))}
      {insetRXTicks.map(v => (
        <text key={'irxl' + v} x={IRX(v)} y={724} fontSize={40} textAnchor="middle">{String(v)}</text>
      ))}
      {insetRYExp.map(e => (
        <Pow key={'iryl' + e} x={1428} y={IRY(Math.pow(10, e)) + 23.5} exp={String(e)} size={42} sup={28} dy={-25} anchor="start" />
      ))}

      {/* end markers of the rescaled curves */}
      {series.map(s => {
        const last = s.main[s.main.length - 1];
        return <Symbol key={'mm' + s.color} kind={s.sym} color={s.color} x={RX(last[0])} y={RY(last[1])} />;
      })}

      <rect x={979.3} y={39} width={768.4} height={718.3} fill="none" stroke="#000" strokeWidth={2.5} />
      {rightXTicks.map(v => (
        <g key={'rxt' + v} stroke="#000" strokeWidth={TW}>
          <line x1={RX(v)} x2={RX(v)} y1={757.3} y2={733.3} />
          <line x1={RX(v)} x2={RX(v)} y1={39} y2={63} />
        </g>
      ))}
      {rightXMinor.map(v => (
        <g key={'rxm' + v} stroke="#000" strokeWidth={TW}>
          <line x1={RX(v)} x2={RX(v)} y1={757.3} y2={745.3} />
          <line x1={RX(v)} x2={RX(v)} y1={39} y2={51} />
        </g>
      ))}
      {logMajor.map(v => (
        <g key={'ryt' + v} stroke="#000" strokeWidth={TW}>
          <line x1={979.3} x2={1003.3} y1={RY(v)} y2={RY(v)} />
          <line x1={1747.7} x2={1723.7} y1={RY(v)} y2={RY(v)} />
        </g>
      ))}
      {logMinor.map(v => (
        <g key={'rym' + v} stroke="#000" strokeWidth={TW}>
          <line x1={979.3} x2={991.3} y1={RY(v)} y2={RY(v)} />
          <line x1={1747.7} x2={1735.7} y1={RY(v)} y2={RY(v)} />
        </g>
      ))}
      {rightXTicks.map(v => (
        <text key={'rxl' + v} x={RX(v)} y={805} fontSize={52} textAnchor="middle">{String(v)}</text>
      ))}
      {rightYExp.map(e => (
        <Pow key={'ryl' + e} x={967} y={RY(Math.pow(10, e)) + 28} exp={String(e)} size={52} sup={32} dy={-31} anchor="end" />
      ))}
    </svg>
  );
}
